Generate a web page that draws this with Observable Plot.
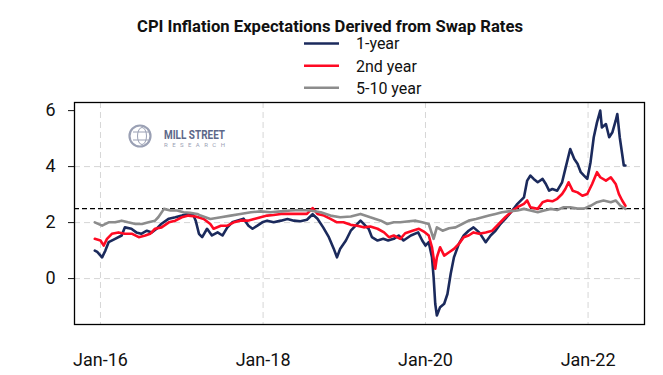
<!DOCTYPE html>
<html>
<head>
<meta charset="utf-8">
<script src="https://cdn.jsdelivr.net/npm/d3@7"></script>
<script src="https://cdn.jsdelivr.net/npm/@observablehq/plot@0.6"></script>
<style>
  html, body { margin: 0; padding: 0; background: #fff; }
  #wrap { position: relative; width: 663px; height: 375px; font-family: Roboto, "Noto Sans", sans-serif; }
  #header, #chart svg { display: block; }
  #logo { position: absolute; left: 125px; top: 115px; overflow: visible; }
</style>
</head>
<body>
<div id="wrap">
  <svg id="header" width="663" height="98"></svg>
  <div id="chart"></div>
  <svg id="logo" width="110" height="40"></svg>
</div>
<script>
// ---- data (dates as decimal years) ----
const titleText = "CPI Inflation Expectations Derived from Swap Rates";
const seriesNames = ["1-year", "2nd year", "5-10 year"];
const seriesColors = ["#1b2a5c", "#ff0a23", "#8c8c8c"];

const oneYearDates = [2015.93,2015.96,2016.02,2016.06,2016.10,2016.18,2016.26,2016.30,2016.38,2016.44,2016.50,2016.57,2016.63,2016.69,2016.75,2016.84,2016.92,2017.00,2017.08,2017.14,2017.17,2017.21,2017.25,2017.31,2017.37,2017.44,2017.50,2017.56,2017.62,2017.68,2017.76,2017.82,2017.87,2017.93,2017.99,2018.05,2018.13,2018.22,2018.30,2018.38,2018.46,2018.54,2018.61,2018.67,2018.74,2018.81,2018.87,2018.91,2018.95,2019.02,2019.08,2019.14,2019.20,2019.26,2019.30,2019.34,2019.41,2019.48,2019.54,2019.61,2019.67,2019.73,2019.82,2019.91,2019.96,2020.00,2020.04,2020.08,2020.10,2020.12,2020.14,2020.18,2020.23,2020.27,2020.31,2020.35,2020.41,2020.47,2020.53,2020.59,2020.66,2020.74,2020.80,2020.86,2020.92,2020.98,2021.05,2021.13,2021.21,2021.25,2021.29,2021.33,2021.38,2021.44,2021.48,2021.52,2021.56,2021.62,2021.68,2021.72,2021.78,2021.83,2021.87,2021.91,2021.95,2021.99,2022.03,2022.07,2022.11,2022.15,2022.17,2022.22,2022.26,2022.30,2022.34,2022.36,2022.39,2022.42,2022.44,2022.46];
const oneYearValues = [1.0,0.95,0.76,1.0,1.3,1.42,1.54,1.83,1.78,1.65,1.6,1.71,1.65,1.78,1.96,2.14,2.19,2.25,2.32,2.28,2.07,1.6,1.48,1.78,1.54,1.65,1.54,1.83,2.01,2.07,2.14,1.89,1.78,1.89,2.01,2.07,2.01,2.07,2.13,2.07,2.05,2.1,2.3,2.14,1.83,1.48,1.07,0.76,1.07,1.36,1.71,1.89,2.07,1.89,1.78,1.48,1.36,1.42,1.36,1.42,1.54,1.36,1.54,1.65,1.36,1.18,1.3,0.76,0.05,-0.9,-1.32,-1.02,-0.9,-0.55,0.17,0.76,1.24,1.54,1.71,1.83,1.65,1.3,1.54,1.71,1.95,2.13,2.37,2.67,2.9,3.5,3.68,3.56,3.44,3.56,3.38,3.14,3.2,3.14,3.44,3.92,4.63,4.27,4.1,3.8,3.68,3.56,4.15,5.05,5.58,6.0,5.4,5.52,5.05,5.23,5.64,5.88,5.05,4.45,4.04,4.04];

const secondYearDates = [2015.93,2016.00,2016.04,2016.08,2016.14,2016.22,2016.30,2016.39,2016.47,2016.55,2016.61,2016.67,2016.75,2016.84,2016.92,2017.00,2017.08,2017.17,2017.27,2017.35,2017.39,2017.48,2017.56,2017.64,2017.72,2017.81,2017.89,2017.97,2018.05,2018.13,2018.22,2018.30,2018.38,2018.46,2018.54,2018.61,2018.67,2018.75,2018.83,2018.91,2018.99,2019.08,2019.16,2019.24,2019.32,2019.41,2019.49,2019.55,2019.61,2019.69,2019.75,2019.84,2019.92,2019.98,2020.04,2020.08,2020.12,2020.14,2020.18,2020.23,2020.29,2020.35,2020.41,2020.47,2020.53,2020.59,2020.66,2020.74,2020.82,2020.90,2020.98,2021.07,2021.13,2021.21,2021.25,2021.29,2021.38,2021.44,2021.50,2021.56,2021.62,2021.68,2021.72,2021.76,2021.81,2021.87,2021.93,2021.99,2022.05,2022.11,2022.15,2022.22,2022.28,2022.34,2022.38,2022.42,2022.46];
const secondYearValues = [1.42,1.36,1.18,1.42,1.6,1.65,1.6,1.6,1.48,1.54,1.6,1.78,1.83,2.01,2.07,2.19,2.25,2.22,2.13,1.95,1.78,1.89,1.89,2.01,2.07,2.07,2.13,2.19,2.25,2.27,2.31,2.31,2.31,2.31,2.31,2.52,2.31,2.25,2.13,2.01,2.01,1.92,1.89,1.83,1.86,1.78,1.65,1.48,1.54,1.42,1.62,1.71,1.78,1.68,1.54,1.12,0.35,0.76,1.12,0.82,0.94,1.06,1.24,1.48,1.54,1.65,1.6,1.65,1.71,1.95,2.19,2.43,2.55,2.67,2.79,2.55,2.49,2.73,2.79,2.76,2.85,3.02,3.2,3.44,3.14,3.08,2.96,3.02,3.38,3.8,3.62,3.5,3.62,3.38,3.02,2.79,2.6];

const fiveTenDates = [2015.93,2016.02,2016.10,2016.18,2016.26,2016.34,2016.43,2016.51,2016.59,2016.67,2016.71,2016.78,2016.86,2016.94,2017.02,2017.10,2017.19,2017.23,2017.35,2017.48,2017.60,2017.72,2017.85,2017.97,2018.09,2018.22,2018.34,2018.46,2018.58,2018.71,2018.83,2018.95,2019.08,2019.20,2019.32,2019.45,2019.53,2019.61,2019.69,2019.77,2019.88,2019.96,2020.04,2020.10,2020.14,2020.21,2020.29,2020.37,2020.45,2020.53,2020.62,2020.70,2020.78,2020.86,2020.94,2021.02,2021.13,2021.21,2021.29,2021.38,2021.46,2021.54,2021.62,2021.70,2021.78,2021.87,2021.95,2022.03,2022.11,2022.19,2022.28,2022.34,2022.40,2022.46];
const fiveTenValues = [2.01,1.89,2.01,2.01,2.07,2.01,1.95,1.95,2.01,2.07,2.19,2.49,2.43,2.43,2.37,2.35,2.31,2.25,2.13,2.19,2.25,2.31,2.37,2.4,2.37,2.4,2.43,2.45,2.43,2.37,2.25,2.19,2.22,2.31,2.19,2.07,1.95,2.01,2.01,2.04,2.07,2.01,1.95,1.42,1.83,1.71,1.8,1.83,1.95,2.07,2.13,2.19,2.25,2.31,2.37,2.4,2.43,2.49,2.43,2.37,2.43,2.49,2.45,2.55,2.55,2.5,2.5,2.6,2.73,2.79,2.73,2.79,2.6,2.49];

const yTicks = [0, 2, 4, 6];
const yGrid = [0, 2, 4];
const xTickYears = [2016, 2018, 2020, 2022];
const referenceLevel = [2.5];
const xDomainYears = [2015.68, 2022.695];
const yDomain = [-1.64, 6.29];

// ---- helpers ----
function toDate(y) {
  const yr = Math.floor(y);
  const s = Date.UTC(yr, 0, 1), e = Date.UTC(yr + 1, 0, 1);
  return new Date(s + (y - yr) * (e - s));
}
function rows(dates, values, name) {
  return dates.map((d, i) => ({date: toDate(d), value: values[i], series: name}));
}
const data = [
  ...rows(oneYearDates, oneYearValues, seriesNames[0]),
  ...rows(secondYearDates, secondYearValues, seriesNames[1]),
  ...rows(fiveTenDates, fiveTenValues, seriesNames[2])
];
const xTicks = xTickYears.map(y => new Date(Date.UTC(y, 0, 1)));

// ---- header: title + legend ----
const header = d3.select("#header");
header.append("text")
  .attr("x", 137).attr("y", 31.5)
  .attr("textLength", 386).attr("lengthAdjust", "spacingAndGlyphs")
  .attr("font-family", "Roboto").attr("font-weight", 700).attr("font-size", 16.5)
  .attr("fill", "#111")
  .text(titleText);
const legendRowY = [43.5, 65.7, 87.7];
seriesNames.forEach((name, i) => {
  header.append("line")
    .attr("x1", 304).attr("x2", 339).attr("y1", legendRowY[i]).attr("y2", legendRowY[i])
    .attr("stroke", seriesColors[i]).attr("stroke-width", 2.5);
  header.append("text")
    .attr("x", 356).attr("y", legendRowY[i] + 5.8)
    .attr("font-family", "Roboto").attr("font-size", 16)
    .attr("fill", "#111")
    .text(name);
});

// ---- logo watermark ----
const logo = d3.select("#logo");
const g = logo.append("g").attr("stroke", "#9aa0b4").attr("fill", "none");
g.append("circle").attr("cx", 15).attr("cy", 21).attr("r", 10.5).attr("stroke-width", 2.2);
g.append("ellipse").attr("cx", 17).attr("cy", 21).attr("rx", 4.5).attr("ry", 8.5).attr("stroke-width", 1);
g.append("line").attr("x1", 8).attr("x2", 24).attr("y1", 17).attr("y2", 17).attr("stroke-width", 1);
g.append("line").attr("x1", 8).attr("x2", 24).attr("y1", 25).attr("y2", 25).attr("stroke-width", 1);
logo.append("text").attr("x", 39).attr("y", 23.5)
  .attr("textLength", 61).attr("lengthAdjust", "spacingAndGlyphs")
  .attr("font-family", "Roboto").attr("font-weight", 700).attr("font-size", 12.5)
  .attr("fill", "#5d6889").text("MILL STREET");
logo.append("text").attr("x", 39).attr("y", 32)
  .attr("textLength", 61).attr("lengthAdjust", "spacing")
  .attr("font-family", "Roboto").attr("font-size", 6)
  .attr("fill", "#9aa0b4").text("RESEARCH");

// ---- chart ----
const chart = Plot.plot({
  width: 663,
  height: 277,
  marginLeft: 74,
  marginRight: 19,
  marginTop: 4,
  marginBottom: 51,
  style: {fontFamily: "Roboto", color: "#111", background: "transparent"},
  x: {type: "utc", domain: xDomainYears.map(toDate), label: null},
  y: {domain: yDomain, label: null},
  color: {domain: seriesNames, range: seriesColors},
  marks: [
    Plot.gridY(yGrid, {stroke: "#d6d6d6", strokeOpacity: 1, strokeDasharray: "6,4", strokeWidth: 1}),
    Plot.gridX(xTicks, {stroke: "#d6d6d6", strokeOpacity: 1, strokeDasharray: "6,4", strokeWidth: 1}),
    Plot.ruleY(referenceLevel, {stroke: "#000", strokeDasharray: "5,3", strokeWidth: 1.2}),
    Plot.line(data, {x: "date", y: "value", z: "series", stroke: "series", strokeWidth: 2.6, strokeLinejoin: "round"}),
    Plot.frame({stroke: "#000", strokeWidth: 1.3}),
    Plot.axisY(yTicks, {tickSize: 6, tickPadding: 13, fontSize: 18, label: null}),
    Plot.axisX(xTicks, {tickSize: 0, tickPadding: 29, fontSize: 18, label: null, tickFormat: d3.utcFormat("%b-%y")})
  ]
});
document.getElementById("chart").appendChild(chart);
</script>
</body>
</html>
